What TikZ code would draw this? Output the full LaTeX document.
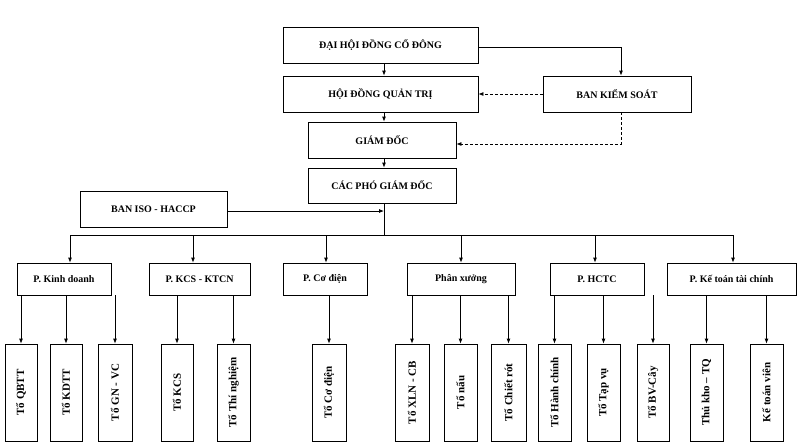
\documentclass[tikz,border=0pt]{standalone}
\usepackage{fontspec}
\setmainfont{Liberation Serif}
\usetikzlibrary{arrows.meta}
\tikzset{
 box/.style={draw,thick,inner sep=0pt,font=\bfseries\fontsize{10}{12}\selectfont},
 leaf/.style={box,font=\bfseries\fontsize{11}{13}\selectfont},
 arr/.style={-{Latex[length=5pt,width=4pt]},thick},
 dsh/.style={arr,densely dashed}
}
\newcommand{\mybx}[7][box]{\node[#1,minimum width=#4pt-#2pt,minimum height=#5pt-#3pt] (#6) at ({(#2+#4)/2},{(#3+#5)/2}) {#7};}
\newcommand{\myleaf}[4]{\node[leaf,minimum width=#3pt-#2pt,minimum height=97pt] (#1) at ({(#2+#3)/2},392.5) {\rotatebox{90}{#4}};}
\begin{document}
\begin{tikzpicture}[x=1pt,y=-1pt]
\useasboundingbox (0,0) rectangle (800,445);
\mybx{283}{27}{478}{63}{dh}{ĐẠI HỘI ĐỒNG CỔ ĐÔNG}
\mybx{283}{76}{478}{112}{hd}{HỘI ĐỒNG QUẢN TRỊ}
\mybx{543}{76}{691}{112}{bks}{BAN KIỂM SOÁT}
\mybx{308}{122}{456}{158}{gd}{GIÁM ĐỐC}
\mybx{308}{168}{456}{203}{pgd}{CÁC PHÓ GIÁM ĐỐC}
\mybx{80}{191}{227}{227}{iso}{BAN ISO - HACCP}
\mybx{17}{263}{111}{295}{kd}{P. Kinh doanh}
\mybx{149}{263}{250}{295}{kcs}{P. KCS - KTCN}
\mybx{283}{263}{367}{295}{cd}{P. Cơ điện}
\mybx{407}{263}{515}{295}{px}{Phân xưởng}
\mybx{550}{263}{644}{295}{hc}{P. HCTC}
\mybx{667}{263}{796}{295}{kt}{P. Kế toán tài chính}
\myleaf{l1}{5}{37}{Tổ QBTT}
\myleaf{l2}{50}{82}{Tổ KDTT}
\myleaf{l3}{98}{132}{Tổ GN - VC}
\myleaf{l4}{161}{193}{Tổ KCS}
\myleaf{l5}{217}{250}{Tổ Thí nghiệm}
\myleaf{l6}{312}{346}{Tổ Cơ điện}
\myleaf{l7}{395}{429}{Tổ XLN - CB}
\myleaf{l8}{444}{477}{Tổ nấu}
\myleaf{l9}{491}{526}{Tổ Chiết rót}
\myleaf{l10}{538}{571}{Tổ Hành chính}
\myleaf{l11}{587}{620}{Tổ Tạp vụ}
\myleaf{l12}{637}{669}{Tổ BV-Cây}
\myleaf{l13}{690}{723}{Thủ kho – TQ}
\myleaf{l14}{750}{783}{Kế toán viên}
\coordinate (t1) at (384,63);
\draw[arr] (dh.south -| t1) -- (hd.north -| t1);
\draw[arr] (hd.south -| t1) -- (gd.north -| t1);
\draw[arr] (gd.south -| t1) -- (pgd.north -| t1);
\coordinate (bk) at (621,47);
\draw[arr] (dh.east |- bk) -| (bks.north -| bk);
\draw[dsh] (bks.west) -- (hd.east);
\coordinate (gk) at (621,144);
\draw[dsh] (bks.south -| gk) |- (gd.east |- gk);
\coordinate (iy) at (384,211);
\draw[arr] (iso.east |- iy) -- (iy);
\coordinate (bus) at (384,235);
\draw[thick] (pgd.south -| t1) -- (bus);
\draw[thick] (70,235) -- (733,235);
\foreach \n/\x in {kd/70,kcs/193,cd/326,px/461,hc/595,kt/733}{
  \coordinate (c) at (\x,235);
  \draw[arr] (c) -- (\n.north -| c);}
\foreach \p/\l in {kd/l1,kd/l2,kd/l3,kcs/l4,kcs/l5,cd/l6,px/l7,px/l8,px/l9,hc/l10,hc/l11,hc/l12,kt/l13,kt/l14}
  \draw[arr] (\p.south -| \l) -- (\l.north);
\end{tikzpicture}
\end{document}
